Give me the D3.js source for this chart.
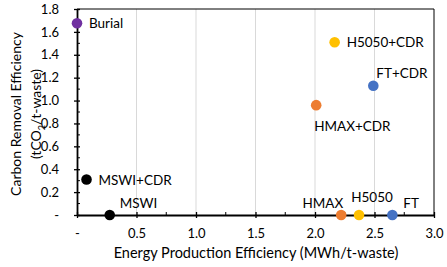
<!DOCTYPE html>
<html>
<head>
<meta charset="utf-8">
<script src="https://cdn.jsdelivr.net/npm/d3@7"></script>
<style>
  body { margin: 0; background: #fff; }
  text { font-family: Lato, "Open Sans", sans-serif; }
</style>
</head>
<body>
<div id="chart"></div>
<script>
// scenario data
const names = ["Burial", "MSWI+CDR", "MSWI", "HMAX", "H5050", "FT", "HMAX+CDR", "H5050+CDR", "FT+CDR"];
const energy = [0, 0.08, 0.275, 2.22, 2.37, 2.65, 2.01, 2.165, 2.49];
const carbon = [1.675, 0.31, 0, 0, 0, 0, 0.96, 1.51, 1.13];
const colors = ["#7030A0", "#000000", "#000000", "#ED7D31", "#FFC000", "#4472C4", "#ED7D31", "#FFC000", "#4472C4"];
const xTicks = [0, 0.5, 1.0, 1.5, 2.0, 2.5, 3.0];
const yTicks = [0, 0.2, 0.4, 0.6, 0.8, 1.0, 1.2, 1.4, 1.6, 1.8];

// label placement: [dx, dy, anchor]
const labelPos = {
    "Burial": [12, 5, "start"],
    "MSWI+CDR": [12, 5, "start"],
    "MSWI": [10, -7, "start"],
    "HMAX": [2, -7, "end"],
    "H5050": [13, -13, "middle"],
    "FT": [11, -7, "start"],
    "HMAX+CDR": [-2, 26, "start"],
    "H5050+CDR": [12, 5, "start"],
    "FT+CDR": [3, -8, "start"]
};

const W = 447, H = 267;
const margin = { top: 9, right: 13, bottom: 52, left: 77 };
const width = W - margin.left - margin.right;
const height = H - margin.top - margin.bottom;

const svg = d3.select("#chart").append("svg")
    .attr("width", W).attr("height", H);
const g = svg.append("g")
    .attr("transform", `translate(${margin.left},${margin.top})`);

const x = d3.scaleLinear().domain([0, 3]).range([0, width]);
const y = d3.scaleLinear().domain([0, 1.8]).range([height, 0]);

const fmt = d => d === 0 ? "-" : d3.format(".1f")(d);

// vertical gridlines
g.selectAll(".grid").data(xTicks.filter(d => d > 0 && d < 3))
    .enter().append("line")
    .attr("x1", d => x(d)).attr("x2", d => x(d))
    .attr("y1", 0).attr("y2", height)
    .attr("stroke", "#d9d9d9").attr("stroke-width", 1);

// frame top/right
g.append("line").attr("x1", 0).attr("x2", width).attr("y1", 0).attr("y2", 0)
    .attr("stroke", "#000").attr("stroke-width", 1);
g.append("line").attr("x1", width).attr("x2", width).attr("y1", 0).attr("y2", height)
    .attr("stroke", "#000").attr("stroke-width", 1);

// minor ticks (inside)
const xMinor = d3.range(0.25, 3, 0.5);
const yMinor = d3.range(0.1, 1.8, 0.2);
g.selectAll(".xminor").data(xMinor).enter().append("line")
    .attr("x1", d => x(d)).attr("x2", d => x(d))
    .attr("y1", height).attr("y2", height - 3)
    .attr("stroke", "#000").attr("stroke-width", 1);
g.selectAll(".yminor").data(yMinor).enter().append("line")
    .attr("x1", 0).attr("x2", 3)
    .attr("y1", d => y(d)).attr("y2", d => y(d))
    .attr("stroke", "#000").attr("stroke-width", 1);

// axes
const xAxis = g.append("g")
    .attr("transform", `translate(0,${height})`)
    .call(d3.axisBottom(x).tickValues(xTicks).tickFormat(fmt).tickSizeInner(3).tickSizeOuter(0).tickPadding(11));
const yAxis = g.append("g")
    .call(d3.axisLeft(y).tickValues(yTicks).tickFormat(fmt).tickSizeInner(3).tickSizeOuter(0).tickPadding(15));

[xAxis, yAxis].forEach(a => {
    a.select(".domain").attr("stroke", "#000").attr("stroke-width", 1.8);
    a.selectAll(".tick line").attr("stroke", "#000").attr("stroke-width", 1.3);
    a.selectAll(".tick text").style("font-size", "13px").attr("fill", "#000");
});
// major ticks cross the axis
xAxis.selectAll(".tick line").attr("y1", -3);
yAxis.selectAll(".tick line").attr("x1", 3);

// points
const pts = names.map((n, i) => ({ name: n, e: energy[i], c: carbon[i], col: colors[i] }));
g.selectAll(".pt").data(pts).enter().append("circle")
    .attr("cx", d => x(d.e)).attr("cy", d => y(d.c))
    .attr("r", 5.3).attr("fill", d => d.col);

g.selectAll(".lbl").data(pts).enter().append("text")
    .attr("x", d => x(d.e) + labelPos[d.name][0])
    .attr("y", d => y(d.c) + labelPos[d.name][1])
    .attr("text-anchor", d => labelPos[d.name][2])
    .style("font-size", "13.5px")
    .attr("fill", "#000")
    .text(d => d.name);

// axis titles
svg.append("text")
    .attr("x", 256).attr("y", 258)
    .attr("text-anchor", "middle")
    .style("font-size", "14.5px")
    .text("Energy Production Efficiency (MWh/t-waste)");

const yt = svg.append("text")
    .attr("transform", `translate(21,${margin.top + height / 2 + 2}) rotate(-90)`)
    .attr("text-anchor", "middle")
    .style("font-size", "14px");
yt.append("tspan").attr("x", 0).attr("dy", 0).text("Carbon Removal Efficiency");
const t2 = yt.append("tspan").attr("x", 0).attr("dy", 20).text("(tCO");
yt.append("tspan").attr("dy", 4).style("font-size", "9px").text("2");
yt.append("tspan").attr("dy", -4).text("/t-waste)");
</script>
</body>
</html>
